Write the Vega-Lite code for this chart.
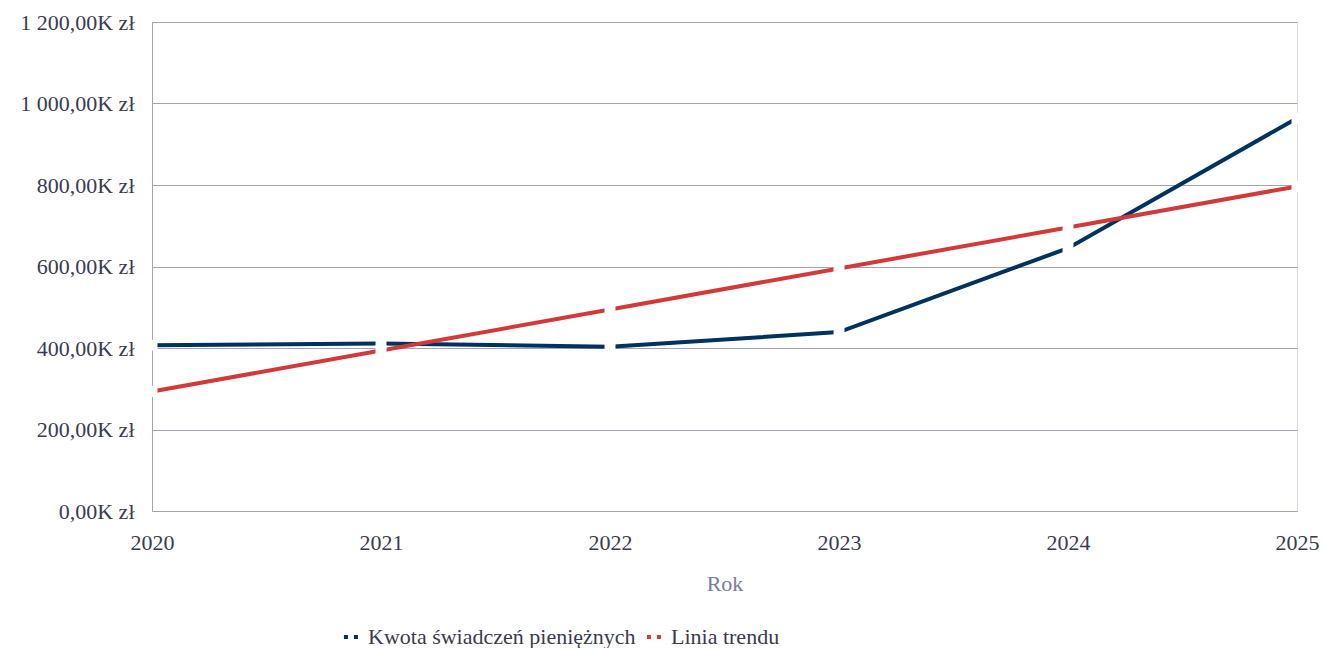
{
  "$schema": "https://vega.github.io/schema/vega-lite/v6.json",
  "width": 1145,
  "height": 489,
  "autosize": "none",
  "padding": {"left": 152, "top": 22, "right": 26, "bottom": 137},
  "background": "white",
  "config": {"font": "Liberation Serif"},
  "data": {
    "values": [
      {"year": 2020, "series": "Kwota świadczeń pieniężnych", "value": 407},
      {"year": 2021, "series": "Kwota świadczeń pieniężnych", "value": 411},
      {"year": 2022, "series": "Kwota świadczeń pieniężnych", "value": 403},
      {"year": 2023, "series": "Kwota świadczeń pieniężnych", "value": 439},
      {"year": 2024, "series": "Kwota świadczeń pieniężnych", "value": 645},
      {"year": 2025, "series": "Kwota świadczeń pieniężnych", "value": 964},
      {"year": 2020, "series": "Linia trendu", "value": 293.2},
      {"year": 2021, "series": "Linia trendu", "value": 393.8},
      {"year": 2022, "series": "Linia trendu", "value": 494.5},
      {"year": 2023, "series": "Linia trendu", "value": 595.2},
      {"year": 2024, "series": "Linia trendu", "value": 695.8},
      {"year": 2025, "series": "Linia trendu", "value": 796.5}
    ]
  },
  "encoding": {
    "x": {
      "field": "year",
      "type": "quantitative",
      "scale": {"domain": [2020, 2025], "nice": false, "zero": false},
      "axis": {
        "title": "Rok",
        "format": "d",
        "values": [2020, 2021, 2022, 2023, 2024, 2025],
        "grid": false,
        "ticks": false,
        "domain": true,
        "domainColor": "#A3A3BE",
        "domainWidth": 1,
        "labelFont": "Liberation Serif",
        "labelFontSize": 22,
        "labelColor": "#3B3B4F",
        "labelPadding": 21,
        "labelFlush": false,
        "titleFont": "Liberation Serif",
        "titleFontSize": 22,
        "titleFontWeight": "normal",
        "titleColor": "#7C7C9C",
        "titlePadding": 20
      }
    },
    "y": {
      "field": "value",
      "type": "quantitative",
      "scale": {"domain": [0, 1200], "nice": false},
      "axis": {
        "title": null,
        "values": [0, 200, 400, 600, 800, 1000, 1200],
        "labelExpr": "replace(replace(format(datum.value, ',.2f'), ',', ' '), '.', ',') + 'K  zł'",
        "grid": true,
        "gridColor": "#A3A3BE",
        "gridWidth": 1,
        "ticks": false,
        "domain": true,
        "domainColor": "#A3A3BE",
        "labelFont": "Liberation Serif",
        "labelFontSize": 22,
        "labelColor": "#3B3B4F",
        "labelPadding": 18
      }
    }
  },
  "layer": [
    {
      "mark": {"type": "line", "strokeWidth": 4},
      "encoding": {
        "color": {
          "field": "series",
          "type": "nominal",
          "scale": {
            "domain": ["Kwota świadczeń pieniężnych", "Linia trendu"],
            "range": ["#00325F", "#D23A3A"]
          },
          "legend": {
            "title": null,
            "orient": "none",
            "direction": "horizontal",
            "legendX": 188,
            "legendY": 604,
            "symbolType": "stroke",
            "symbolDash": [4, 6],
            "symbolStrokeWidth": 4,
            "symbolSize": 200,
            "labelFont": "Liberation Serif",
            "labelFontSize": 22,
            "labelColor": "#3B3B4F",
            "labelLimit": 500,
            "columnPadding": 2,
            "symbolOffset": 0,
            "labelOffset": 6
          }
        },
        "order": {"field": "series", "sort": "descending"}
      }
    },
    {
      "mark": {"type": "point", "shape": "square", "filled": true, "color": "white", "size": 120, "opacity": 1}
    }
  ]
}
